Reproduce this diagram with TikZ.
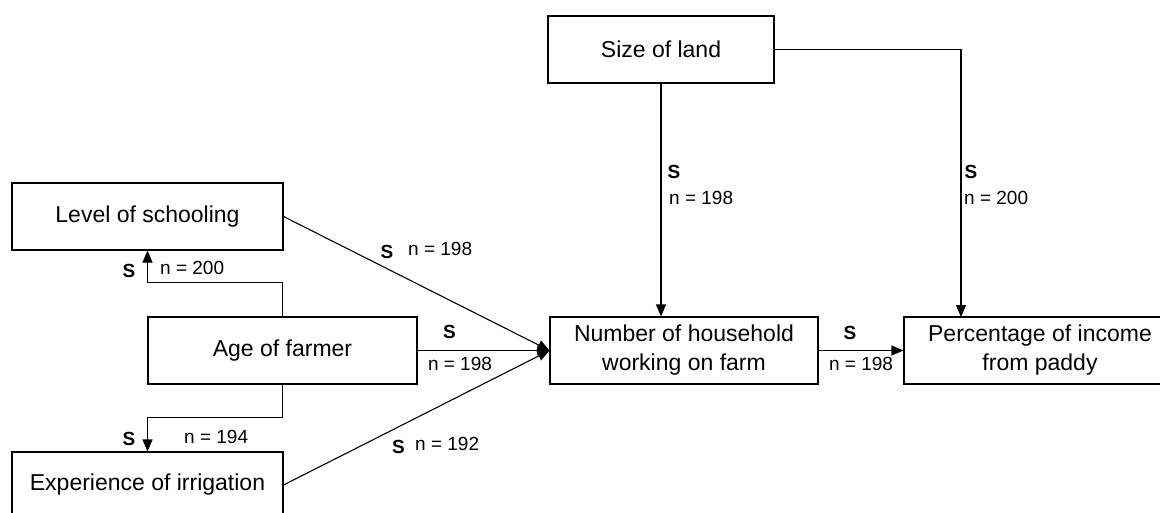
\documentclass[tikz,border=0pt]{standalone}
\usepackage{fontspec}
\setmainfont{Liberation Sans}
\usetikzlibrary{arrows.meta}
\tikzset{
  box/.style={draw, line width=1.1pt, inner sep=0pt, align=center,
    font=\fontsize{23}{29}\selectfont},
  arr/.style={line width=1.1pt, -{Triangle[length=12pt,width=10pt]}},
  sig/.style={font=\fontsize{19}{22}\selectfont\bfseries, inner sep=0pt},
  nlab/.style={font=\fontsize{19}{22}\selectfont, inner sep=0pt}
}
\begin{document}
\begin{tikzpicture}[x=1pt,y=-1pt]
\useasboundingbox (0,0) rectangle (1160,512);
\clip (0,0) rectangle (1160,512);
% boxes
\node[box, minimum width=271pt, minimum height=67pt] (lev) at (147.5,216.5) {Level of schooling};
\node[box, minimum width=269pt, minimum height=67pt] (age) at (282.5,350.5) {Age of farmer};
\node[box, minimum width=271pt, minimum height=66pt] (exp) at (147.5,485) {Experience of irrigation};
\node[box, minimum width=268pt, minimum height=67pt] (num) at (684,350.5) {Number of household\\working on farm};
\node[box, minimum width=272pt, minimum height=67pt] (pct) at (1040,350.5) {Percentage of income\\from paddy};
\node[box, minimum width=226pt, minimum height=67pt] (land) at (661,49.5) {Size of land};
\coordinate (pin) at (961,317);
% connectors
\draw[arr] (land.south) -- (land.south |- num.north);
\draw[arr] (land.east) -| (pin);
\draw[arr] (lev.east) -- (num.west);
\draw[arr] (age.east) -- (num.west);
\draw[arr] (exp.east) -- (num.west);
\draw[arr] (num.east) -- (pct.west);
\draw[arr] (age.north) -- ++(0,-34) -| (lev.south);
\draw[arr] (age.south) -- ++(0,33) -| (exp.north);
% labels
\node[sig] (s1) at (674,172) {S};
\node[nlab, anchor=west] (n1) at (669,197.5) {n = 198};
\node[sig] (s2) at (971,172) {S};
\node[nlab, anchor=west] (n2) at (964,197.5) {n = 200};
\node[sig] (s3) at (387,252) {S};
\node[nlab, anchor=west] (n3) at (408,249) {n = 198};
\node[sig] (s4) at (449.5,332) {S};
\node[nlab] (n4) at (460,363.5) {n = 198};
\node[sig] (s5) at (398.5,447) {S};
\node[nlab, anchor=west] (n5) at (415,444) {n = 192};
\node[sig] (s6) at (850,333) {S};
\node[nlab] (n6) at (861,364) {n = 198};
\node[sig] (s7) at (129,271) {S};
\node[nlab, anchor=west] (n7) at (160,268) {n = 200};
\node[sig] (s8) at (129,439) {S};
\node[nlab, anchor=west] (n8) at (184,437) {n = 194};
\end{tikzpicture}
\end{document}
